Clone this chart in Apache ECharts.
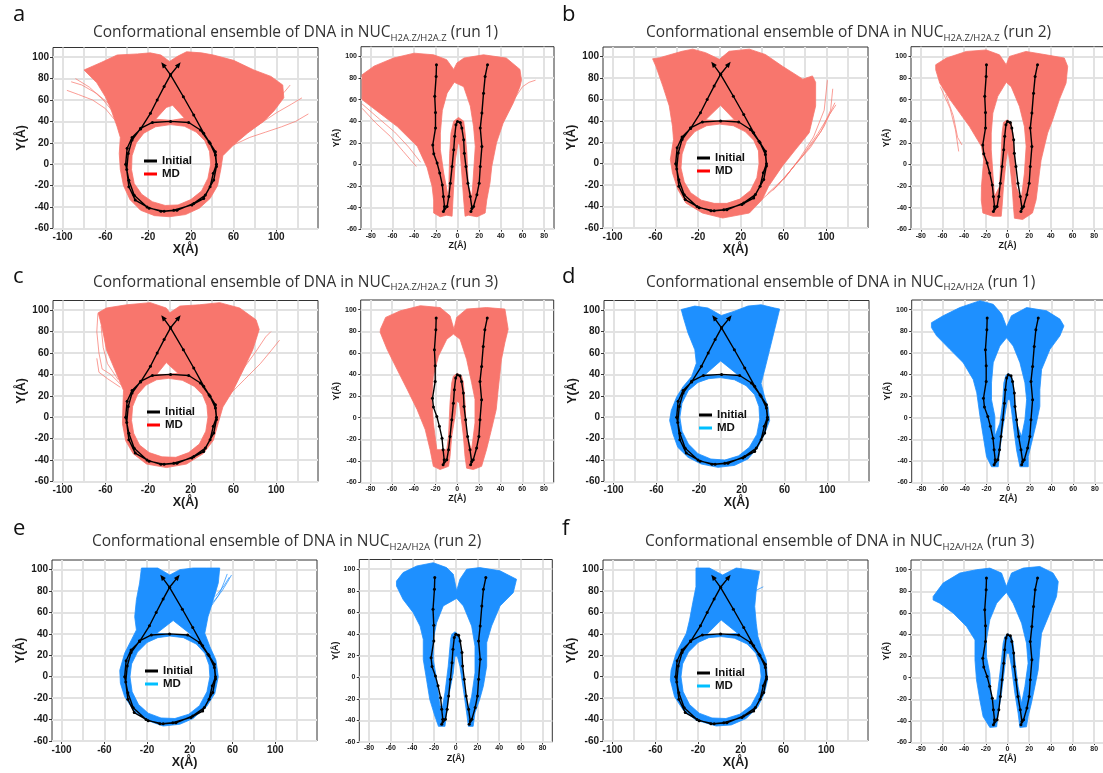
<!DOCTYPE html>
<html><head><meta charset="utf-8">
<script src="https://cdn.jsdelivr.net/npm/echarts@6/dist/echarts.min.js"></script>
<style>html,body{margin:0;padding:0;background:#fff}#c{width:1103px;height:773px}</style>
</head><body><div id="c"></div>
<script>
// ---------------- tick / grid values ----------------
const xyXLabels = [-100,-60,-20,20,60,100];
const xyXGrid = [-100,-80,-60,-40,-20,0,20,40,60,80,100,120];
const zLabels = [-80,-60,-40,-20,0,20,40,60,80];
const yLabels = [-60,-40,-20,0,20,40,60,80,100];

// ---------------- initial structure ----------------
const xyInitial = [[8.7,93],[1,83.5],[-5,72.5],[-11.5,60],[-17.8,47.6],[-27,33],[-35,25],[-39.6,15],[-41,0],[-38,-15],[-33,-29],[-21,-40],[-8,-44],[4,-43],[21,-38],[32,-32],[38,-21],[41,-8.5],[44,0],[43,11.7],[37,21],[29,32],[18,39],[1,40],[-16,39],[-27,33.6],[-35,22.6],[-38.6,10],[-40,-5],[-38,-21],[-32,-33.5],[-19,-41],[-5,-44],[7,-43],[22.7,-36.6],[33.6,-28.8],[41.4,-14.8],[44,-2],[43,8.6],[38,19.5],[32,29],[22.7,46],[13,63],[1,83.5],[-6,93]];
const zyInitial = [[-19.4,92.3],[-19.7,81.5],[-21,63],[-20.3,48],[-20.3,33.6],[-22.8,18],[-21.9,9.8],[-18.8,1.2],[-16.4,-8],[-14,-19],[-13,-29.7],[-12,-39],[-13,-43.6],[-9.6,-39],[-8,-29.7],[-6.6,-17.4],[-5,-2],[-3.5,13.5],[-2.6,26],[-1.4,36.7],[0,39.8],[2.6,38.8],[4,33.6],[5.7,22.8],[6.3,10.4],[7.8,-2],[9.6,-17.4],[11.8,-29.7],[13.3,-40.5],[12.4,-43.6],[14.8,-39],[17.9,-28],[20,-17.4],[21,-2],[22.5,16.6],[21,33.6],[22.5,47.5],[24,66],[25.5,81.5],[27.7,92.3]];

// ---------------- MD ensembles: XY projections ----------------
const aXYOuter = [[-80,88],[-64,95],[-49,102],[-30,103],[-18,104],[-8,102],[0,96],[8,101],[16,105],[30,104],[41,102],[60,97],[79,88],[95,82],[106,74],[107,62],[98,50],[88,40],[73,29],[60,18],[50,8],[48,-5],[45,-20],[38,-32],[28,-41],[15,-47],[0,-49],[-14,-48],[-27,-43],[-37,-33],[-43,-20],[-46,-5],[-47,10],[-46,25],[-49,35],[-55,52],[-60,63],[-68,76]];
const aXYHole1 = [[1,37],[14,35.5],[25,30],[33,22],[37.5,12],[38.5,0],[36,-13],[30,-25],[20,-33],[8,-38],[-4,-38.5],[-16,-35],[-26,-28],[-33,-18],[-35.5,-5],[-35,8],[-31,20],[-24,29],[-13,35]];
const aXYHole2 = [[-13,42],[-3,53],[3,55],[14,43],[2,41]];
const aXYStrands = [[[-50,40],[-60,52],[-72,60],[-85,65],[-96,69]],[[-52,48],[-62,60],[-75,72],[-88,80]],[[-55,55],[-68,66],[-82,74],[-92,77]],[[60,18],[75,25],[90,30],[105,35],[118,40],[130,47]],[[68,28],[85,38],[100,48],[114,56],[124,62]],[[85,45],[100,60],[108,68],[113,74]]];

const bXYOuter = [[-62.6,98],[-56,99],[-35,105],[-25,107],[-13,103.7],[0,97.5],[9,105],[28,107],[43,102],[59,91],[78,79],[87,82],[90,76],[90,54],[84,29],[71,13],[59,-2],[46,-21],[40,-33.5],[28,-46],[3,-50.7],[-16,-46],[-31.5,-36.6],[-39,-24],[-44,-8.5],[-46,4],[-43,22.6],[-44,35],[-47,54],[-53,72.5],[-59.5,91]];
const bXYHole1 = [[0,37],[13,35.5],[24,30],[32,22],[36.5,12],[37,0],[35,-13],[29,-25],[19,-33],[7,-37],[-5,-37],[-17,-34],[-27,-27],[-33,-17],[-36,-4],[-35,9],[-31,21],[-23,30],[-12,35.5]];
const bXYHole2 = [[-13,41],[1,54.5],[14,41],[0,40]];
const bXYStrands = [[[40,-33],[55,-20],[70,-2],[85,15],[98,35],[108,57]],[[50,-25],[65,-8],[80,10],[95,30],[104,50],[106,70]],[[60,-15],[75,5],[88,25],[98,50],[101,78]],[[45,-28],[62,-12],[78,8],[92,28],[103,46],[109,55]]];

const cXYOuter = [[-66.7,97.5],[-59,102],[-40,105],[-18,107],[-3,102],[0.3,97.5],[9.7,103.8],[28,105],[47,107],[65.7,102],[81,91],[84,82],[78,63],[69,44],[59.5,25],[50,9.6],[45.5,-6],[41,-21.7],[31.5,-34],[16,-43.7],[-2.8,-47],[-21.5,-43.7],[-34,-34],[-41,-22],[-44,-6],[-43.5,12],[-43,25],[-51,44],[-59,63],[-62,78.7],[-65,91]];
const cXYHole1 = [[-1,36.3],[12,34.5],[23,29],[31,21],[35,11],[36,0],[34,-13],[28,-25],[18,-33],[6,-37.4],[-7,-37],[-19,-33],[-28,-26],[-33.5,-15],[-35.5,-3],[-34.5,10],[-30,21],[-22,30],[-12,35]];
const cXYHole2 = [[-12,40],[-3,51],[8,41],[-2,40]];
const cXYStrands = [[[-45,30],[-55,40],[-63,45],[-66,60],[-68,80],[-67,97]],[[-48,35],[-58,50],[-62,65],[-64,85]],[[-46,28],[-58,36],[-66,42],[-68,55]],[[55,20],[70,35],[85,50],[95,62],[103,72]],[[65,40],[80,60],[90,75],[95,80]]];

const dXYOuter = [[-36.7,100.6],[-24,103.8],[-11.7,102],[0.8,95],[13,99],[25.7,103.8],[38,105],[50.7,102],[55.4,101],[50.7,82],[46,63],[41.3,44],[38,31.6],[41.3,19],[44.5,9.6],[46,-3],[41.3,-15.5],[35,-28],[25.7,-39],[13,-45],[-2.3,-46.8],[-18,-43.7],[-30.4,-37.4],[-40,-28],[-44.5,-15.5],[-47.6,-3],[-46,6.5],[-41,19],[-35,28.5],[-27,38],[-22.6,50.4],[-24,63],[-30.4,78.7],[-35,94]];
const dXYHole1 = [[-0.2,37],[13,35],[24,29.5],[32,21],[36,10],[36.7,-2],[34,-16],[27,-28],[17,-36],[4,-40],[-9,-39],[-21,-34],[-30,-25],[-36,-13],[-38,0],[-36,13],[-30,25],[-21,32.5],[-11,36]];
const dXYHole2 = [[-14.8,39.5],[0.2,52.6],[16.4,39.5],[0,39]];
const dXYStrands = [];

const eXYOuter = [[-25.3,101.5],[-10,101.5],[1.25,95],[10.6,100],[23,101.5],[35.6,101.5],[48,101.5],[46.6,87.5],[42,72],[37,56],[34,40.6],[38.8,28],[44.4,15.6],[46.6,0],[43.4,-15.6],[35.6,-28],[23,-39],[10.6,-44.4],[-5,-46],[-20.6,-40.6],[-33,-31],[-41,-18.7],[-45,-6],[-45.6,6],[-41,22],[-34.7,34.4],[-30,43.7],[-31.6,56],[-30,72],[-27,87.5]];
const eXYHole1 = [[1.25,38],[14,36.5],[26,30.5],[34,22],[38,11],[38.75,0],[36,-14],[29,-27],[19,-35],[6,-39],[-7,-38.5],[-19,-34],[-28,-26],[-34,-14],[-36,0],[-34.5,12],[-29,23],[-20,32],[-10,36.5]];
const eXYHole2 = [[-11,40.6],[4.4,52.5],[21.6,39],[5,39.5]];
const eXYStrands = [[[42,70],[50,80],[55,88],[59,95]],[[44,75],[52,85],[57,93]],[[40,66],[47,76],[52,88],[55,96]]];

const fXYOuter = [[-22,101.5],[-9.4,101.5],[3,95],[15.6,101.5],[28,100],[37.5,98.4],[34.4,81],[33,65.6],[34.4,50],[36,37.5],[39,28],[43.75,15.6],[45,-3],[42,-15.6],[36,-28],[25,-39],[11,-45],[-3,-46],[-21.9,-40.6],[-34,-31],[-42,-18.7],[-46,-3],[-45.3,6],[-40.6,22],[-36,31],[-31,40.6],[-28,53],[-25,69],[-22,84]];
const fXYHole1 = [[1.6,37.5],[14,36],[26,30.5],[34,22],[38,11],[39,0],[36.5,-14],[29.5,-27],[19,-35],[6,-39],[-7,-38.5],[-19,-34],[-28,-26],[-34,-14],[-36,0],[-34.5,12],[-29,23],[-20,32],[-10,36.5]];
const fXYHole2 = [[-12.5,39],[1.6,53],[17,40.6],[2,39]];
const fXYStrands = [[[33,80],[37,82],[41,84]]];

// ---------------- MD ensembles: ZY projections ----------------
const aZYOuter = [[-88,83],[-77,91],[-59,98.5],[-40,103],[-22,101.5],[-10,97],[-3.5,88],[-0.5,94],[6,98.5],[24,101.5],[45,98.5],[57.6,88],[59,78],[57.6,72],[51.5,57],[42,38],[36,20],[31.6,-2],[30,-17],[27,-33],[25.5,-45],[18,-48.5],[10,-47],[7,-48],[5.7,-33],[3.5,-2],[2,18],[0.5,20],[-2,4],[-3.5,-20],[-5,-48],[-10,-47],[-16,-48.5],[-22,-45],[-22,-33],[-23.4,-20.5],[-28,-3],[-37,16.6],[-55.5,35],[-75,50],[-88,60]];
const aZYHole = [[-8,-33],[-12.7,-8],[-15.8,13.5],[-15.8,29],[-14,50],[-9.6,66],[-3,76],[5.7,72],[11.8,54],[14.8,35],[16.4,16.6],[14.8,-8],[13.3,-30],[10,-20],[8.7,10],[7,29],[5.7,40],[1,43.5],[-3.5,40],[-6,29],[-7.2,10],[-8,-20]];
const aZYStrands = [[[52,60],[60,72],[66,76],[72,78]],[[-88,56],[-72,42],[-58,30],[-45,16],[-34,2]],[[-88,52],[-75,38],[-62,26],[-50,12],[-38,-2]]];

const bZYOuter = [[-66.2,92.3],[-56.4,98.5],[-38,104.6],[-19.6,106],[-7.4,101.5],[-1.2,92.3],[1.8,100],[17,104.6],[35.6,101.5],[52.4,98.5],[55.5,90.7],[54,75.3],[47.8,60],[41.7,41.3],[37,29],[34,16.6],[31,4],[29.4,-8],[27.9,-20.5],[26.4,-32.8],[23,-45],[14,-51],[6.4,-49.8],[5.5,-39],[4.3,-20.5],[1.8,4.2],[0.3,13.5],[-1.2,4.2],[-3.7,-20.5],[-5,-39],[-5.8,-48],[-13.5,-48],[-22.7,-45],[-24.2,-33],[-24,-20.5],[-23,-8],[-22,4.2],[-24,16.6],[-35,35],[-44,47.5],[-53,60],[-62.5,75.3],[-66.2,87.6]];
const bZYHole = [[-12,-29.7],[-13.5,-8],[-15,13.5],[-15,29],[-13.5,47.5],[-9,63],[-1.2,76],[3.4,72],[11,53.7],[15.6,35],[17.2,16.6],[15.6,-8],[12.6,-32.8],[8,-20.5],[6.4,10.4],[4.9,29],[3.4,38.8],[-0.3,41.3],[-3.7,38.8],[-5,29],[-5.8,10.4],[-7.4,-20.5]];
const bZYStrands = [[[-62,72],[-53,52],[-48,32],[-45,12]],[[-57,65],[-50,45],[-46,25],[-42,18]]];

const cZYOuter = [[-70.8,82],[-66,92.9],[-52.5,99],[-34,103.7],[-15.8,102],[-6.6,94.4],[-3,82],[-0.5,92.9],[8.7,100.6],[27,102],[44,100.6],[47,82],[44,69.6],[40.8,54],[37.8,26],[36,7.6],[31.6,-11],[27,-29.6],[22.5,-45],[14.8,-48],[8.7,-46.7],[7.2,-35.8],[5.7,-17],[3.5,1.4],[2,13.8],[-0.5,15.3],[-2,1.4],[-5,-17],[-6.6,-35.8],[-8,-45],[-15.8,-48],[-22,-45],[-25,-29.6],[-29.5,-11],[-37,7.6],[-46,26],[-55.5,44.8],[-64.7,63.4],[-71,79]];
const cZYHole = [[-18.8,-29.6],[-22,-4.8],[-23.4,17],[-22,38.6],[-17.3,57],[-9.6,72.7],[-3.5,77.4],[2.6,72.7],[8.7,54],[13.3,32.4],[16.4,17],[16.4,-4.8],[13.3,-29.6],[8.7,-17],[7.2,13.8],[5.7,32.4],[4,38.6],[0.2,41],[-3.5,38.6],[-5,32.4],[-6.6,13.8],[-8,-17],[-9.6,-29.6]];
const cZYStrands = [];

const dZYOuter = [[-70.8,88],[-60,94.4],[-44.6,102],[-26,108.4],[-13.8,105],[-6,96],[-1.5,84],[3,94.4],[17,102],[35.4,99],[47.7,91.3],[51.4,85],[47.7,75.8],[38.5,63.3],[30.8,44.7],[29.2,26],[29.2,10.5],[26,-5],[21.5,-23.6],[18.5,-36],[18.5,-45.4],[10.8,-45.4],[7.7,-29.8],[5.2,-11],[3,7.4],[1.5,16.7],[-0.6,16.7],[-2.2,7.4],[-5.2,-11],[-7.7,-29.8],[-9.2,-45.4],[-15.4,-45.4],[-20,-36],[-23,-17.4],[-26,1.2],[-29,23],[-32.3,35.4],[-41.5,51],[-53.8,63.3],[-66,75.8],[-70.8,83.5]];
const dZYHole = [[-12.3,-17.4],[-12.3,1.2],[-15.4,16.7],[-15.4,32.3],[-13.8,51],[-7.7,66.4],[-1.5,74],[4.6,66.4],[10.8,51],[15.4,32.3],[17,16.7],[15.4,-2],[12.3,-17.4],[7.7,-5],[6.2,13.6],[4.6,32.3],[3,38.5],[0.6,41],[-2.2,39],[-4,32.3],[-5.2,13.6],[-7.7,-5]];
const dZYStrands = [];

const eZYOuter = [[-54.7,89],[-48.6,96.9],[-36,103],[-20.8,106],[-8.5,101.5],[-2.3,95.4],[0.8,80],[3.8,90.7],[10,100],[22,101.5],[40.8,98.5],[56,90.7],[53,78.3],[40.8,66],[33,47.4],[28.5,32],[28.5,10.2],[25.4,-8.3],[22,-20.7],[17.7,-33],[16,-45.5],[11.6,-45.5],[10,-33],[7,-11.4],[3.8,10.2],[1.4,19.5],[-0.8,19.5],[-2.3,4],[-6,-14.5],[-8.5,-33],[-10,-45.5],[-16,-45.5],[-19.3,-36],[-24,-20.7],[-27,-2],[-30,16.4],[-30,35],[-33,47.4],[-39.3,59.8],[-48.6,72],[-54.7,84.5]];
const eZYHole = [[-14.6,-27],[-17.7,-2],[-20.8,16.4],[-20.8,35],[-17.7,50.5],[-11.6,66],[0.8,73],[7,66],[14.6,47.4],[17.7,28.8],[17.7,4],[14.6,-17.6],[11.6,-30],[8.5,-14.5],[5.4,16.4],[3.8,35],[2.3,39.6],[-0.8,42],[-3.8,39.6],[-4.8,35],[-7,10.2],[-10,-14.5],[-12.2,-27]];
const eZYStrands = [];

const fZYOuter = [[-68.6,75.2],[-59.4,87.6],[-44,96.9],[-28.6,100],[-16.3,101.5],[-5.5,96.9],[-1,84.5],[3.7,96.9],[14.5,101.5],[29.8,103],[42,96.9],[46.8,89],[45.2,75.2],[39,59.8],[31.4,41.2],[29.8,25.7],[28.3,7.2],[25.2,-8.3],[22,-23.8],[19,-36],[17.5,-45.5],[11.4,-46],[9.8,-33],[6.8,-14.5],[3.7,10.2],[1.5,22.6],[-1,22.6],[-2.5,10.2],[-5.5,-14.5],[-8.6,-33],[-10,-45.5],[-16.3,-46],[-22.5,-36],[-25.5,-20.7],[-28.6,-2],[-30,16.4],[-30,35],[-37.8,47.4],[-50,59.8],[-62.5,69],[-68.6,72]];
const fZYHole = [[-14.8,-20.7],[-16.3,4],[-19.4,19.5],[-19.4,35],[-16.3,53.6],[-10,69],[-1,79],[5.2,69],[13,50.5],[17.5,32],[19,13.3],[16,-8.3],[13,-23.8],[9.8,-8.3],[6.8,16.4],[5.2,32],[3.7,38],[0.6,40.6],[-2.5,38],[-4,32],[-5.5,16.4],[-7.7,-2],[-10,-20.7]];
const fZYStrands = [];

// ---------------- panel metadata ----------------
const RED = '#F8766D', BLUE = '#1E90FF';
const panels = [
  {letter:'a', sub:'H2A.Z/H2A.Z', run:1, color:RED, legendColor:'#FF0000', xy:{outer:aXYOuter, holes:[aXYHole1,aXYHole2], strands:aXYStrands}, zy:{outer:aZYOuter, holes:[aZYHole], strands:aZYStrands}},
  {letter:'b', sub:'H2A.Z/H2A.Z', run:2, color:RED, legendColor:'#FF0000', xy:{outer:bXYOuter, holes:[bXYHole1,bXYHole2], strands:bXYStrands}, zy:{outer:bZYOuter, holes:[bZYHole], strands:bZYStrands}},
  {letter:'c', sub:'H2A.Z/H2A.Z', run:3, color:RED, legendColor:'#FF0000', xy:{outer:cXYOuter, holes:[cXYHole1,cXYHole2], strands:cXYStrands}, zy:{outer:cZYOuter, holes:[cZYHole], strands:cZYStrands}},
  {letter:'d', sub:'H2A/H2A', run:1, color:BLUE, legendColor:'#00BFFF', xy:{outer:dXYOuter, holes:[dXYHole1,dXYHole2], strands:dXYStrands}, zy:{outer:dZYOuter, holes:[dZYHole], strands:dZYStrands}},
  {letter:'e', sub:'H2A/H2A', run:2, color:BLUE, legendColor:'#00BFFF', xy:{outer:eXYOuter, holes:[eXYHole1,eXYHole2], strands:eXYStrands}, zy:{outer:eZYOuter, holes:[eZYHole], strands:eZYStrands}},
  {letter:'f', sub:'H2A/H2A', run:3, color:BLUE, legendColor:'#00BFFF', xy:{outer:fXYOuter, holes:[fXYHole1,fXYHole2], strands:fXYStrands}, zy:{outer:fZYOuter, holes:[fZYHole], strands:fZYStrands}}
];

// layout (pixels)
const layout = [
  {lx:13, ly:15,  tx:93,  ty:33,    xyL:53,  zyL:361,   top:47.5, topZ:46.7, lg:[144,155]},
  {lx:562,ly:15,  tx:646, ty:33,    xyL:603, zyL:911,   top:47,   topZ:46.7, lg:[697,152]},
  {lx:13, ly:277, tx:93,  ty:282.5, xyL:53,  zyL:360.7, top:300.5,topZ:300,  lg:[147,406]},
  {lx:562,ly:277, tx:646, ty:282.5, xyL:604, zyL:911.7, top:300.5,topZ:300,  lg:[699,409]},
  {lx:13, ly:528.5,tx:92, ty:542,   xyL:52,  zyL:359.3, top:560,  topZ:559.5,lg:[145,665]},
  {lx:562,ly:528.5,tx:645,ty:542,   xyL:603, zyL:911,   top:560,  topZ:560,  lg:[697,667]}
];

const grids=[], xAxes=[], yAxes=[], series=[], legends=[], graphics=[];
const FONT = 'Liberation Sans';

// arrowheads on both free ends of the XY linker arms (direction from the neighbouring point)
function withArrowEnds(pts){
  const n = pts.length;
  function rot(p, q){ // angle so that an up-pointing triangle points from q to p
    const ang = Math.atan2(p[1]-q[1], p[0]-q[0]) * 180 / Math.PI;
    return ang - 90;
  }
  return pts.map(function(p, i){
    if (i === 0) return {value:p, symbol:'triangle', symbolSize:[5,6], symbolRotate:rot(pts[0], pts[1])};
    if (i === n-1) return {value:p, symbol:'triangle', symbolSize:[5,6], symbolRotate:rot(pts[n-1], pts[n-2])};
    return p;
  });
}

function addPlot(o){
  const gi = grids.length;
  grids.push({left:o.left, top:o.top, width:o.width, height:o.height, show:true, borderColor:'#333', borderWidth:1,
    backgroundColor:'transparent', containLabel:false, outerBoundsMode:'none'});
  const fs = o.big ? 10 : 7, nfs = o.big ? 12.5 : 9;
  xAxes.push({gridIndex:gi, type:'value', min:o.xr[0], max:o.xr[1], position:'bottom',
    axisLine:{show:false, onZero:false},
    axisTick:{show:true, customValues:o.xLabels, length:o.big?3:2.5, lineStyle:{color:'#333', width:1}},
    axisLabel:{customValues:o.xLabels, fontSize:fs, fontWeight:'bold', color:'#1a1a1a', fontFamily:FONT, margin:o.big?4:3},
    splitLine:{show:false},
    name:o.xName, nameLocation:'middle', nameGap:12,
    nameTextStyle:{fontSize:nfs, fontWeight:'bold', color:'#1a1a1a', fontFamily:FONT}});
  yAxes.push({gridIndex:gi, type:'value', min:-60, max:109, position:'left',
    axisLine:{show:false, onZero:false},
    axisTick:{show:true, customValues:yLabels, length:o.big?3:2.5, lineStyle:{color:'#333', width:1}},
    axisLabel:{customValues:yLabels, fontSize:fs, fontWeight:'bold', color:'#1a1a1a', fontFamily:FONT, margin:4},
    splitLine:{show:false},
    name:'Y(Å)', nameLocation:'middle', nameGap:o.big?25:17,
    nameTextStyle:{fontSize:nfs, fontWeight:'bold', color:'#1a1a1a', fontFamily:FONT}});
  // gridlines (below the ensemble)
  series.push({type:'line', xAxisIndex:gi, yAxisIndex:gi, data:[], silent:true, z:1, showSymbol:false,
    markLine:{z:1, silent:true, symbol:['none','none'], label:{show:false}, emphasis:{disabled:true}, animation:false,
      lineStyle:{color:'#e2e2e2', width:2, type:'solid'},
      data: o.xGrid.map(v=>({xAxis:v})).concat(yLabels.map(v=>({yAxis:v})))}});
  // ensemble
  const ens = o.ens, color = o.color;
  series.push({type:'custom', name:'MD', xAxisIndex:gi, yAxisIndex:gi, coordinateSystem:'cartesian2d', clip:true,
    silent:true, z:3, itemStyle:{color:color}, data:[[0,0]], encode:{x:0, y:1},
    renderItem:function(params, api){
      let d = '';
      [ens.outer].concat(ens.holes).forEach(function(ring, k){
        let pts = ring.map(function(pt){ return api.coord(pt); });
        let a = 0;
        for (let i=0;i<pts.length;i++){ const p=pts[i], q=pts[(i+1)%pts.length]; a += p[0]*q[1]-q[0]*p[1]; }
        if ((k===0) !== (a>0)) pts = pts.slice().reverse();
        d += 'M' + pts.map(function(p){ return p[0].toFixed(2)+' '+p[1].toFixed(2); }).join('L') + 'Z';
      });
      return {type:'path', shape:{pathData:d}, style:{fill:color, stroke:color, lineWidth:0.8, lineJoin:'round'}};
    }});
  if (ens.strands.length){
    series.push({type:'lines', coordinateSystem:'cartesian2d', xAxisIndex:gi, yAxisIndex:gi, polyline:true, silent:true, z:3,
      data: ens.strands.map(s=>({coords:s})), lineStyle:{color:color, width:0.8, opacity:0.9}, animation:false});
  }
  series.push({type:'line', name:'Initial', xAxisIndex:gi, yAxisIndex:gi, data:o.big ? withArrowEnds(o.init) : o.init,
    symbol:'circle', symbolSize:3, showSymbol:true, lineStyle:{color:'#000', width:1.4}, itemStyle:{color:'#000'},
    z:4, silent:true, clip:true});
}

panels.forEach(function(p, k){
  const L = layout[k];
  addPlot({left:L.xyL, top:L.top, width:265, height:181, xr:[-109,139], xLabels:xyXLabels, xGrid:xyXGrid,
    xName:'X(Å)', big:true, ens:p.xy, init:xyInitial, color:p.color});
  addPlot({left:L.zyL, top:L.topZ, width:193, height:182.5, xr:[-89,89], xLabels:zLabels, xGrid:zLabels,
    xName:'Z(Å)', big:false, ens:p.zy, init:zyInitial, color:p.color});
  legends.push({left:L.lg[0], top:L.lg[1], orient:'vertical', itemWidth:13, itemHeight:3, itemGap:1, icon:'rect',
    padding:0, selectedMode:false, z:6,
    textStyle:{fontSize:11.5, fontWeight:'bold', fontFamily:FONT, color:'#111'},
    data:[{name:'Initial', itemStyle:{color:'#000'}}, {name:'MD', itemStyle:{color:p.legendColor}}]});
  graphics.push({type:'text', x:L.lx, y:L.ly, silent:true,
    style:{text:p.letter, fontSize:22, fontFamily:'Open Sans', fill:'#111', align:'left', verticalAlign:'middle'}});
  graphics.push({type:'text', x:L.tx, y:L.ty, silent:true,
    style:{text:'{m|Conformational ensemble of DNA in NUC}{s|'+p.sub+'}{m| (run '+p.run+')}',
      verticalAlign:'middle', align:'left',
      rich:{m:{fontSize:15.5, fontFamily:'Open Sans', fill:'#333', lineHeight:20},
            s:{fontSize:9.5, fontFamily:'Open Sans', fill:'#333', lineHeight:10, verticalAlign:'bottom'}}}});
});

const chart = echarts.init(document.getElementById('c'), null, {renderer:'canvas', width:1103, height:773});
chart.setOption({
  animation:false,
  backgroundColor:'#fff',
  textStyle:{fontFamily:FONT},
  grid:grids, xAxis:xAxes, yAxis:yAxes, series:series, legend:legends, graphic:graphics
});
</script>
</body></html>
